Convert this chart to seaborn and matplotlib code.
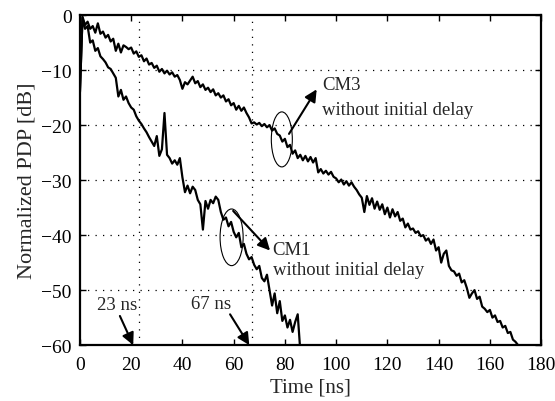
import numpy as np
import pandas as pd
import matplotlib
matplotlib.use("Agg")
import matplotlib.pyplot as plt
import seaborn as sns
from matplotlib.patches import Ellipse

# ---- data ----
cm3_db = [-14, -0.3, -1.8, -1.2, -2.5, -2.0, -3.2, -1.5, -3.4, -3.0,
          -4.1, -3.6, -4.8, -4.3, -6.5, -5.2, -6.8, -5.5, -5.8, -6.2,
          -5.9, -7.0, -6.6, -7.6, -7.3, -8.4, -7.9, -9.0, -8.7, -9.6,
          -9.2, -10.3, -9.8, -10.6, -10.1, -10.8, -10.4, -11.2, -10.9, -11.8,
          -13.4, -12.2, -12.6, -11.9, -11.2, -12.4, -12.0, -13.1, -12.6, -13.6,
          -13.2, -14.0, -13.5, -14.6, -14.2, -15.0, -14.6, -15.7, -15.3, -16.4,
          -16.0, -17.2, -16.5, -17.4, -16.8, -17.8, -18.6, -19.7, -19.5, -19.9,
          -19.6, -20.2, -19.8, -20.4, -20.0, -21.0, -20.6, -21.6, -21.9, -23.0,
          -22.5, -24.0, -23.6, -25.2, -24.6, -26.0, -25.4, -26.4, -25.6, -26.6,
          -25.8, -26.8, -26.0, -28.6, -28.0, -28.8, -28.3, -29.0, -28.5, -29.4,
          -29.7, -30.4, -29.9, -30.8, -30.2, -31.0, -30.4, -31.2, -31.8, -32.6,
          -33.2, -35.8, -32.9, -34.5, -33.3, -35.2, -33.9, -35.4, -34.4, -36.2,
          -35.0, -36.8, -35.3, -36.6, -35.8, -37.4, -37.0, -38.6, -37.9, -39.0,
          -38.8, -39.6, -39.3, -40.2, -40.0, -41.0, -40.6, -41.6, -40.8, -42.8,
          -42.2, -45.0, -43.4, -42.8, -45.6, -46.4, -46.6, -47.4, -47.0, -48.6,
          -48.2, -49.6, -51.4, -50.6, -50.0, -51.6, -51.2, -53.0, -53.4, -54.0,
          -53.6, -55.0, -54.6, -55.8, -55.6, -56.8, -56.5, -57.8, -57.6, -59.0,
          -59.4, -60.0, -60.6]
cm1_db = [-14, -0.5, -2.5, -2.0, -5.0, -4.6, -6.5, -6.0, -7.5, -8.0,
          -8.6, -9.5, -9.8, -10.6, -11.4, -14.8, -13.6, -15.4, -14.8, -16.0,
          -16.8, -17.2, -18.4, -19.2, -19.8, -20.6, -21.3, -22.2, -23.0, -23.8,
          -22.0, -25.6, -24.4, -17.8, -25.4, -26.0, -27.0, -26.4, -27.2, -26.0,
          -29.5, -32.2, -31.0, -32.4, -31.2, -31.8, -33.6, -34.4, -39.0, -33.8,
          -35.2, -33.6, -34.2, -33.0, -33.6, -35.8, -37.2, -36.8, -38.4, -37.6,
          -39.4, -40.4, -39.6, -42.2, -41.6, -43.4, -44.4, -44.0, -45.4, -46.2,
          -45.6, -47.8, -48.4, -47.2, -50.0, -52.8, -50.6, -54.2, -52.0, -55.6,
          -54.6, -56.8, -55.4, -57.6, -55.8, -54.4, -61.0]
cm3_t = list(range(len(cm3_db)))
cm1_t = list(range(len(cm1_db)))
marker_lines = [23, 67]
xticks = [0, 20, 40, 60, 80, 100, 120, 140, 160, 180]
yticks = [-60, -50, -40, -30, -20, -10, 0]

df = pd.concat([
    pd.DataFrame({"t": cm3_t, "db": cm3_db, "ch": "CM3"}),
    pd.DataFrame({"t": cm1_t, "db": cm1_db, "ch": "CM1"}),
])

sns.set_style("ticks")
plt.rcParams["font.family"] = ["Liberation Serif", "DejaVu Serif"]
plt.rcParams["axes.unicode_minus"] = True

fig = plt.figure(figsize=(5.55, 4.02), dpi=100)
ax = fig.add_axes([0.144, 0.139, 0.831, 0.821])

sns.lineplot(data=df, x="t", y="db", units="ch", estimator=None,
             color="black", lw=1.6, ax=ax, legend=False)

ax.set_xlim(0, 180)
ax.set_ylim(-60, 0)
ax.set_xticks(xticks)
ax.set_yticks(yticks)
ax.tick_params(direction="in", length=4, width=1.0, top=True, right=True,
               labelsize=14, colors="black")
ax.tick_params(axis="x", pad=8)
ax.tick_params(axis="y", pad=6)
for s in ax.spines.values():
    s.set_linewidth(1.6)
    s.set_color("black")

dot = (0, (1, 5))
for yv in yticks[1:-1]:
    ax.axhline(yv, color="black", lw=0.9, ls=dot, zorder=0)
for xv in marker_lines:
    ax.axvline(xv, color="black", lw=0.9, ls=dot, zorder=0)

ax.set_xlabel("Time [ns]", fontsize=15, labelpad=3)
ax.set_ylabel("Normalized PDP [dB]", fontsize=16, labelpad=3)

ap = dict(arrowstyle="-|>", color="black", lw=1.5, mutation_scale=18,
          shrinkA=0, shrinkB=0)

# ellipses
ax.add_patch(Ellipse((78.8, -22.6), 8.2, 10.0, fill=False, lw=0.8, ec="black"))
ax.add_patch(Ellipse((59.2, -40.4), 9.0, 10.3, fill=False, lw=0.8, ec="black"))

# CM3 annotation
ax.annotate("", xy=(92.4, -13.5), xytext=(81.6, -21.6), arrowprops=ap)
ax.text(94.4, -12.6, "CM3", fontsize=13.5, va="center", ha="left")
ax.text(94.4, -17.1, "without initial delay", fontsize=13.5, va="center", ha="left")

# CM1 annotation
ax.annotate("", xy=(74.2, -42.8), xytext=(59.8, -35.6), arrowprops=ap)
ax.text(75.2, -42.6, "CM1", fontsize=13.5, va="center", ha="left")
ax.text(75.2, -46.3, "without initial delay", fontsize=13.5, va="center", ha="left")

# delay markers
ax.annotate("", xy=(20.8, -60), xytext=(15.6, -54.7), arrowprops=ap,
            annotation_clip=False)
ax.text(14.4, -52.7, "23 ns", fontsize=13.5, va="center", ha="center")
ax.annotate("", xy=(66.1, -60), xytext=(58.6, -54.4), arrowprops=ap,
            annotation_clip=False)
ax.text(51.2, -52.4, "67 ns", fontsize=13.5, va="center", ha="center")

fig.savefig("out.png", dpi=100)
